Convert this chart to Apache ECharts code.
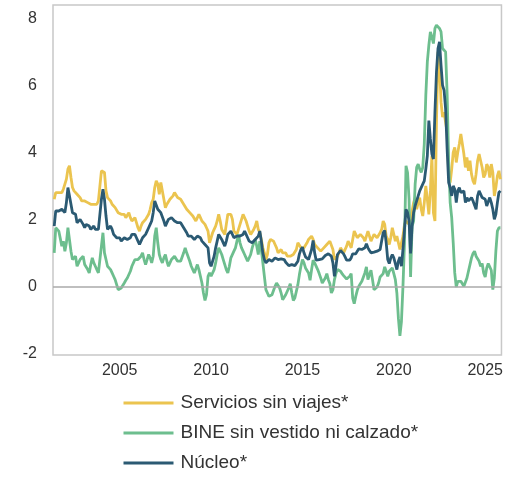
<!DOCTYPE html>
<html>
<head>
<meta charset="utf-8">
<script src="https://cdn.jsdelivr.net/npm/echarts@6/dist/echarts.min.js"></script>
<style>
  html, body { margin: 0; padding: 0; background: #fff; }
  #main { width: 506px; height: 477px; }
</style>
</head>
<body>
<div id="main"></div>
<script>
  // monthly series, first value = June 2001
  const startYear = 2001
  const startMonth = 6

  const servicios = [
    2.6, 2.8, 2.75, 2.8, 2.85, 2.8, 2.9, 2.95, 3.2, 3.5, 3.6, 3.25,
    2.95, 2.85, 2.8, 2.75, 2.7, 2.65, 2.55, 2.5, 2.55, 2.5, 2.5, 2.55,
    2.45, 2.5, 2.45, 2.4, 2.45, 2.55, 2.6, 3.45, 3.45, 3.4, 2.85, 2.65,
    2.6, 2.55, 2.45, 2.4, 2.35, 2.3, 2.2, 2.25, 2.15, 2.1, 2.15, 2.05,
    2.1, 2.2, 2.05, 1.95, 2.0, 2.05, 1.9, 1.75, 1.65, 1.8, 1.9, 1.85,
    2.0, 2.05, 2.15, 2.3, 2.5, 2.6, 2.95, 3.15, 3.05, 2.75, 3.1, 3.15,
    2.6, 2.35, 2.45, 2.45, 2.6, 2.65, 2.7, 2.8, 2.75, 2.65, 2.7, 2.6,
    2.55, 2.45, 2.4, 2.3, 2.25, 2.2, 2.15, 2.1, 2.05, 1.95, 2.05, 2.15,
    2.05, 1.95, 1.9, 1.85, 1.75, 1.65, 1.3, 1.45, 1.6, 1.7, 1.8, 1.95,
    2.15, 1.95, 1.7, 1.65, 1.55, 1.85, 2.15, 2.2, 2.15, 2.0, 1.65, 1.6,
    1.55, 1.7, 1.85, 2.0, 2.15, 2.2, 1.95, 1.8, 1.65, 1.55, 1.6, 1.7,
    1.8, 1.95, 1.7, 1.6, 1.4, 1.15, 1.0, 0.8, 0.95, 1.3, 1.4, 1.35,
    1.35, 1.25, 1.15, 1.0, 1.05, 1.1, 1.0, 0.95, 1.0, 0.9, 0.85, 0.9,
    0.85, 0.95, 1.0, 1.1, 1.3, 1.25, 1.15, 1.2, 1.15, 1.2, 1.3, 1.4,
    1.45, 1.5, 1.4, 1.25, 1.2, 1.15, 1.1, 1.05, 1.1, 1.15, 1.2, 1.25,
    1.3, 1.35, 1.3, 1.1, 0.8, 0.85, 0.9, 1.0, 1.15, 1.1, 1.0, 0.95,
    1.2, 1.35, 1.25, 1.15, 1.4, 1.65, 1.55, 1.45, 1.5, 1.55, 1.55, 1.45,
    1.35, 1.5, 1.65, 1.5, 1.35, 1.45, 1.55, 1.5, 1.45, 1.5, 1.6, 1.7,
    1.95, 1.85, 1.5, 1.4, 1.25, 1.45, 1.75, 1.55, 1.35, 1.5, 1.55, 1.1,
    1.3, 1.5, 1.85, 1.95, 2.0, 1.85, 2.0, 2.25, 2.5, 2.65, 2.3, 2.5,
    2.65, 2.3, 2.1, 2.5, 3.0, 2.6, 2.15, 2.85, 3.9, 2.2, 1.95, 4.9,
    7.0, 6.6, 5.5, 5.05, 5.2, 5.25, 4.6, 3.35, 3.1, 3.5, 4.0, 4.15,
    3.7, 4.0, 4.25, 4.55, 4.5, 3.95, 3.55, 3.85, 3.45, 3.75, 3.35, 3.15,
    3.05, 3.35, 3.75, 3.95, 3.9, 3.55, 3.25, 3.35, 3.65, 3.55, 3.25, 3.65,
    3.4, 2.7, 2.95, 3.3, 3.45, 3.2
  ]

  const bine = [
    1.0, 1.75, 1.7, 1.65, 1.6, 1.2, 1.35, 1.05, 1.3, 1.75, 1.4, 1.05,
    0.8, 0.85, 0.9, 0.6, 0.7, 0.8, 0.85, 0.9, 0.65, 0.6, 0.5, 0.4,
    0.65, 0.85, 0.7, 0.6, 0.5, 0.4, 0.45, 1.2, 1.6, 1.0, 0.8, 0.6,
    0.55, 0.5, 0.4, 0.3, 0.2, 0.05, -0.1, -0.12, -0.05, -0.02, 0.1, 0.18,
    0.25, 0.3, 0.45, 0.6, 0.7, 0.8, 0.75, 0.8, 0.75, 0.9, 1.0, 0.8,
    0.65, 0.8, 0.95, 0.85, 0.7, 0.9, 1.5, 1.75, 1.3, 0.95, 0.8, 0.7,
    0.85, 0.95, 0.75, 0.6, 0.7, 0.8, 0.85, 0.9, 0.85, 0.75, 0.7, 0.75,
    0.8, 1.0, 1.15, 1.0, 0.95, 0.75, 0.6, 0.5, 0.4, 0.45, 0.65, 0.5,
    0.3, 0.1, -0.2, -0.42, -0.25, 0.3, 0.4, 0.3, 0.28, 0.5, 0.7, 0.95,
    1.15, 1.05, 0.95, 0.8, 0.65, 0.5, 0.4, 0.6, 0.85, 0.9, 1.05, 1.15,
    1.35, 1.55, 1.3, 1.15, 1.05, 0.95, 0.85, 0.75, 0.7, 0.95, 1.15, 1.3,
    1.4, 1.2, 0.95, 1.35, 1.1, 0.7, 0.3, -0.1, -0.2, -0.3, -0.3, -0.25,
    -0.2, 0.0, 0.1, 0.05, -0.05, -0.2, -0.4, -0.35, -0.25, -0.2, -0.05, 0.08,
    -0.2, -0.42, -0.35, -0.3, 0.05, 0.35, 0.6, 0.8, 0.7, 0.55, 0.6, 0.4,
    0.18, 0.5, 0.78, 0.7, 0.68, 0.5, 0.38, 0.25, 0.1, 0.08, 0.25, 0.38,
    0.2, 0.08, -0.2, -0.1, 0.2, 0.38, 0.5, 0.55, 0.45, 0.38, 0.32, 0.28,
    0.22, 0.18, 0.3, 0.38, -0.35, -0.52, -0.3, -0.12, 0.0, 0.08, 0.15, 0.18,
    0.4, 0.58, 0.2, 0.35, 0.48, 0.2, -0.1, -0.08, -0.02, 0.1, 0.28, 0.3,
    0.38, 0.58, 0.45, 0.3, 0.45, 0.5, 0.55, 0.38, 0.2, -0.2, -0.95, -1.48,
    -1.05, 0.0, 1.3, 3.6, 3.4, 2.6, 0.28, 1.8, 1.95, 3.05, 3.55, 3.65,
    3.5, 3.4, 3.55, 4.25, 5.7, 6.7, 7.2, 7.6, 7.45, 7.25, 7.7, 7.8,
    7.85, 7.7, 7.6, 7.1, 7.1, 7.0, 5.75, 3.75, 2.5, 2.05, 1.3, 0.4,
    -0.02, 0.15, 0.1, 0.15, 0.2, 0.0, -0.02, 0.25, 0.45, 0.65, 0.85, 0.98,
    1.05, 0.9, 0.95, 0.75, 0.6, 0.68, 0.4, 0.28, 0.55, 0.68, 0.58, 0.48,
    -0.1, 0.25, 1.05, 1.65, 1.75, 1.75
  ]

  const nucleo = [
    1.8, 2.25, 2.3, 2.25, 2.2, 2.3, 2.25, 2.2, 2.5, 2.95, 2.9, 2.45,
    2.2, 2.15, 2.15, 1.9, 1.9, 2.0, 1.95, 1.85, 1.75, 1.85, 1.9, 1.8,
    1.7, 1.75, 1.8, 1.7, 1.65, 1.7, 1.75, 2.6, 2.9, 2.6, 2.1, 1.7,
    1.75, 1.8, 1.7, 1.55, 1.5, 1.45, 1.4, 1.45, 1.35, 1.4, 1.45, 1.45,
    1.4, 1.35, 1.45, 1.55, 1.6, 1.55, 1.45, 1.35, 1.25, 1.35, 1.45, 1.5,
    1.55, 1.65, 1.75, 1.85, 1.95, 2.2, 2.55, 2.5, 2.3, 2.25, 2.2, 2.15,
    1.95, 1.8, 1.9, 2.0, 2.05, 2.05, 2.0, 1.95, 1.95, 1.9, 1.95, 1.9,
    1.85, 1.75, 1.7, 1.6, 1.5, 1.5, 1.5, 1.45, 1.4, 1.4, 1.5, 1.5,
    1.45, 1.35, 1.3, 1.25, 1.25, 1.15, 0.7, 0.6, 0.6, 0.9, 1.15, 1.35,
    1.55, 1.5, 1.4, 1.3, 1.2, 1.35, 1.55, 1.6, 1.65, 1.6, 1.45, 1.4,
    1.5, 1.55, 1.5, 1.45, 1.55, 1.65, 1.55, 1.45, 1.35, 1.3, 1.3, 1.35,
    1.4, 1.45, 1.5, 1.65, 1.35, 1.0, 0.8, 0.7, 0.75, 0.8, 0.78, 0.75,
    0.8, 0.85, 0.87, 0.8, 0.78, 0.82, 0.87, 0.8, 0.72, 0.68, 0.62, 0.58,
    0.65, 0.68, 0.62, 0.58, 0.75, 0.97, 1.1, 1.17, 1.0, 0.88, 0.85, 0.8,
    0.78, 1.1, 1.37, 1.0, 0.78, 0.78, 0.8, 0.78, 0.82, 0.87, 0.92, 0.97,
    0.97, 0.97, 0.9, 0.7, 0.3, 0.6, 0.95, 1.0, 1.07, 1.02, 0.97, 0.88,
    0.78, 0.8, 0.78, 0.85, 0.97, 0.95, 0.97, 1.05, 1.12, 1.17, 1.1, 1.07,
    1.15, 1.27, 1.15, 1.07, 1.0, 0.97, 1.02, 1.07, 1.05, 1.07, 1.1, 1.35,
    1.6, 1.67, 1.3, 0.8, 0.68, 0.85, 0.95, 0.85, 0.68, 0.5, 0.75, 0.88,
    0.6, 1.1, 1.7, 2.3, 2.2, 1.95, 0.98, 1.8, 2.2, 2.4, 2.55, 2.7,
    2.85, 2.9, 3.05, 3.15, 3.5, 3.9, 4.95, 4.4, 3.95, 3.8, 5.2, 6.4,
    7.1, 7.3, 6.6, 6.0, 5.85, 5.3, 4.1, 3.1, 2.95, 2.7, 3.0, 2.9,
    2.5, 2.85, 2.95, 2.8, 2.75, 2.85, 2.5, 2.65, 2.55, 2.5, 2.65, 2.55,
    2.5, 2.3, 2.7, 2.85, 2.8, 2.65, 2.65, 2.6, 2.4, 2.45, 2.65, 2.5,
    2.3, 2.0, 2.15, 2.5, 2.8, 2.85
  ]

  const yearTicks = [2005, 2010, 2015, 2020, 2025]
  const valueTicks = [-2, 0, 2, 4, 6, 8]
  const names = ['Servicios sin viajes*', 'BINE sin vestido ni calzado*', 'Núcleo*']
  const colors = ['#EBC44F', '#6DBE8E', '#2B5A73']

  const font = '"Liberation Sans", Arial, sans-serif'

  function toPairs(values) {
    return values.map((v, i) => [startYear + (startMonth - 1 + i) / 12, v])
  }

  const myChart = echarts.init(document.getElementById('main'))
  myChart.setOption({
    animation: false,
    color: colors,
    grid: {
      left: 53,
      right: 2,
      top: 5,
      bottom: 122,
      show: true,
      borderColor: '#c8c8c8',
      borderWidth: 1.5,
    },
    xAxis: {
      type: 'value',
      min: 2001.35,
      max: 2025.89,
      axisLine: {show: false, onZero: false},
      axisTick: {show: false},
      splitLine: {show: false},
      axisLabel: {
        customValues: yearTicks,
        formatter: v => String(v),
        fontSize: 16,
        fontFamily: font,
        color: '#333',
        margin: 8,
      },
    },
    yAxis: {
      type: 'value',
      min: -2.05,
      max: 8.4,
      axisLine: {show: false},
      axisTick: {show: false},
      splitLine: {show: false},
      axisLabel: {
        customValues: valueTicks,
        fontSize: 16,
        fontFamily: font,
        color: '#333',
        margin: 16,
      },
    },
    legend: {
      orient: 'vertical',
      left: 122,
      top: 393,
      padding: 0,
      itemWidth: 50,
      itemHeight: 20,
      itemGap: 10,
      itemStyle: {opacity: 0, borderWidth: 0},
      lineStyle: {width: 3},
      textStyle: {fontSize: 19, lineHeight: 20, fontFamily: font, color: '#333', padding: [0, 0, 0, 2]},
      data: names,
    },
    series: [
      {
        name: names[0],
        type: 'line',
        symbol: 'none',
        data: toPairs(servicios),
        lineStyle: {width: 2.8},
        markLine: {
          silent: true,
          symbol: ['none', 'none'],
          label: {show: false},
          lineStyle: {color: '#aaaaaa', width: 1.5, type: 'solid'},
          data: [{yAxis: 0}],
        },
      },
      {
        name: names[1],
        type: 'line',
        symbol: 'none',
        data: toPairs(bine),
        lineStyle: {width: 2.8},
      },
      {
        name: names[2],
        type: 'line',
        symbol: 'none',
        data: toPairs(nucleo),
        lineStyle: {width: 2.8},
      },
    ],
  })
</script>
</body>
</html>
